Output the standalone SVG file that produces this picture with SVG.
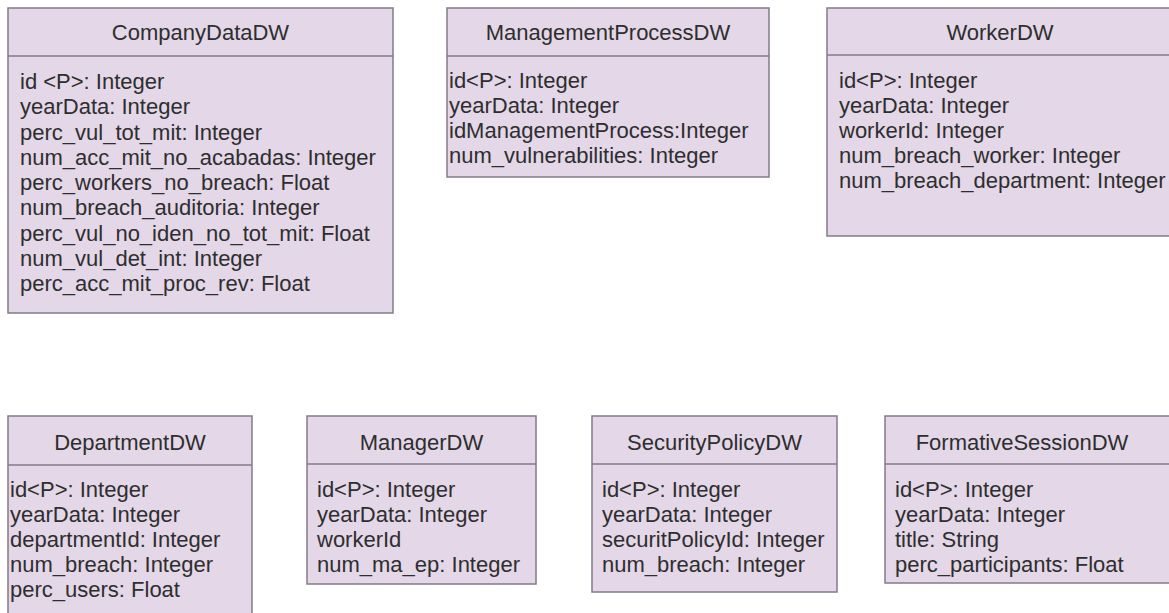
<svg xmlns="http://www.w3.org/2000/svg" width="1169" height="613" viewBox="0 0 1169 613">
<style>
.box{fill:#e3d7e8;stroke:#857a8c;stroke-width:1.5}
.div{stroke:#857a8c;stroke-width:1.5}
text{font-family:"Liberation Sans",Arial,sans-serif;font-size:22px;fill:#2e2e2e}
.t{text-anchor:middle}
</style>
<rect width="1169" height="613" fill="#ffffff"/>
<g id="CompanyDataDW">
<rect class="box" x="8" y="8" width="385" height="305"/>
<line class="div" x1="8" y1="56" x2="393" y2="56"/>
<text class="t" x="200.5" y="40">CompanyDataDW</text>
<text x="20" y="89">id &lt;P&gt;: Integer</text>
<text x="20" y="114.25">yearData: Integer</text>
<text x="20" y="139.5">perc_vul_tot_mit: Integer</text>
<text x="20" y="164.75">num_acc_mit_no_acabadas: Integer</text>
<text x="20" y="190">perc_workers_no_breach: Float</text>
<text x="20" y="215.25">num_breach_auditoria: Integer</text>
<text x="20" y="240.5">perc_vul_no_iden_no_tot_mit: Float</text>
<text x="20" y="265.75">num_vul_det_int: Integer</text>
<text x="20" y="291">perc_acc_mit_proc_rev: Float</text>
</g>
<g id="ManagementProcessDW">
<rect class="box" x="447" y="8" width="322" height="169"/>
<line class="div" x1="447" y1="56" x2="769" y2="56"/>
<text class="t" x="608" y="40">ManagementProcessDW</text>
<text x="449" y="88">id&lt;P&gt;: Integer</text>
<text x="449" y="113">yearData: Integer</text>
<text x="449" y="138">idManagementProcess:Integer</text>
<text x="449" y="163">num_vulnerabilities: Integer</text>
</g>
<g id="WorkerDW">
<rect class="box" x="827" y="8" width="346" height="228"/>
<line class="div" x1="827" y1="55" x2="1173" y2="55"/>
<text class="t" x="1000" y="40">WorkerDW</text>
<text x="839" y="88">id&lt;P&gt;: Integer</text>
<text x="839" y="113">yearData: Integer</text>
<text x="839" y="138">workerId: Integer</text>
<text x="839" y="163">num_breach_worker: Integer</text>
<text x="839" y="188">num_breach_department: Integer</text>
</g>
<g id="DepartmentDW">
<rect class="box" x="8" y="416" width="244" height="210"/>
<line class="div" x1="8" y1="465" x2="252" y2="465"/>
<text class="t" x="130" y="450">DepartmentDW</text>
<text x="10" y="497">id&lt;P&gt;: Integer</text>
<text x="10" y="522">yearData: Integer</text>
<text x="10" y="547">departmentId: Integer</text>
<text x="10" y="572">num_breach: Integer</text>
<text x="10" y="597">perc_users: Float</text>
</g>
<g id="ManagerDW">
<rect class="box" x="307" y="416" width="229" height="168"/>
<line class="div" x1="307" y1="464" x2="536" y2="464"/>
<text class="t" x="421.5" y="450">ManagerDW</text>
<text x="317" y="497">id&lt;P&gt;: Integer</text>
<text x="317" y="522">yearData: Integer</text>
<text x="317" y="547">workerId</text>
<text x="317" y="572">num_ma_ep: Integer</text>
</g>
<g id="SecurityPolicyDW">
<rect class="box" x="592" y="416" width="245" height="176"/>
<line class="div" x1="592" y1="464" x2="837" y2="464"/>
<text class="t" x="714.5" y="450">SecurityPolicyDW</text>
<text x="602" y="497">id&lt;P&gt;: Integer</text>
<text x="602" y="522">yearData: Integer</text>
<text x="602" y="547">securitPolicyId: Integer</text>
<text x="602" y="572">num_breach: Integer</text>
</g>
<g id="FormativeSessionDW">
<rect class="box" x="885" y="416" width="290" height="167"/>
<line class="div" x1="885" y1="464" x2="1175" y2="464"/>
<text class="t" x="1022" y="450">FormativeSessionDW</text>
<text x="895" y="497">id&lt;P&gt;: Integer</text>
<text x="895" y="522">yearData: Integer</text>
<text x="895" y="547">title: String</text>
<text x="895" y="572">perc_participants: Float</text>
</g>
<g id="connectors"/>
</svg>
